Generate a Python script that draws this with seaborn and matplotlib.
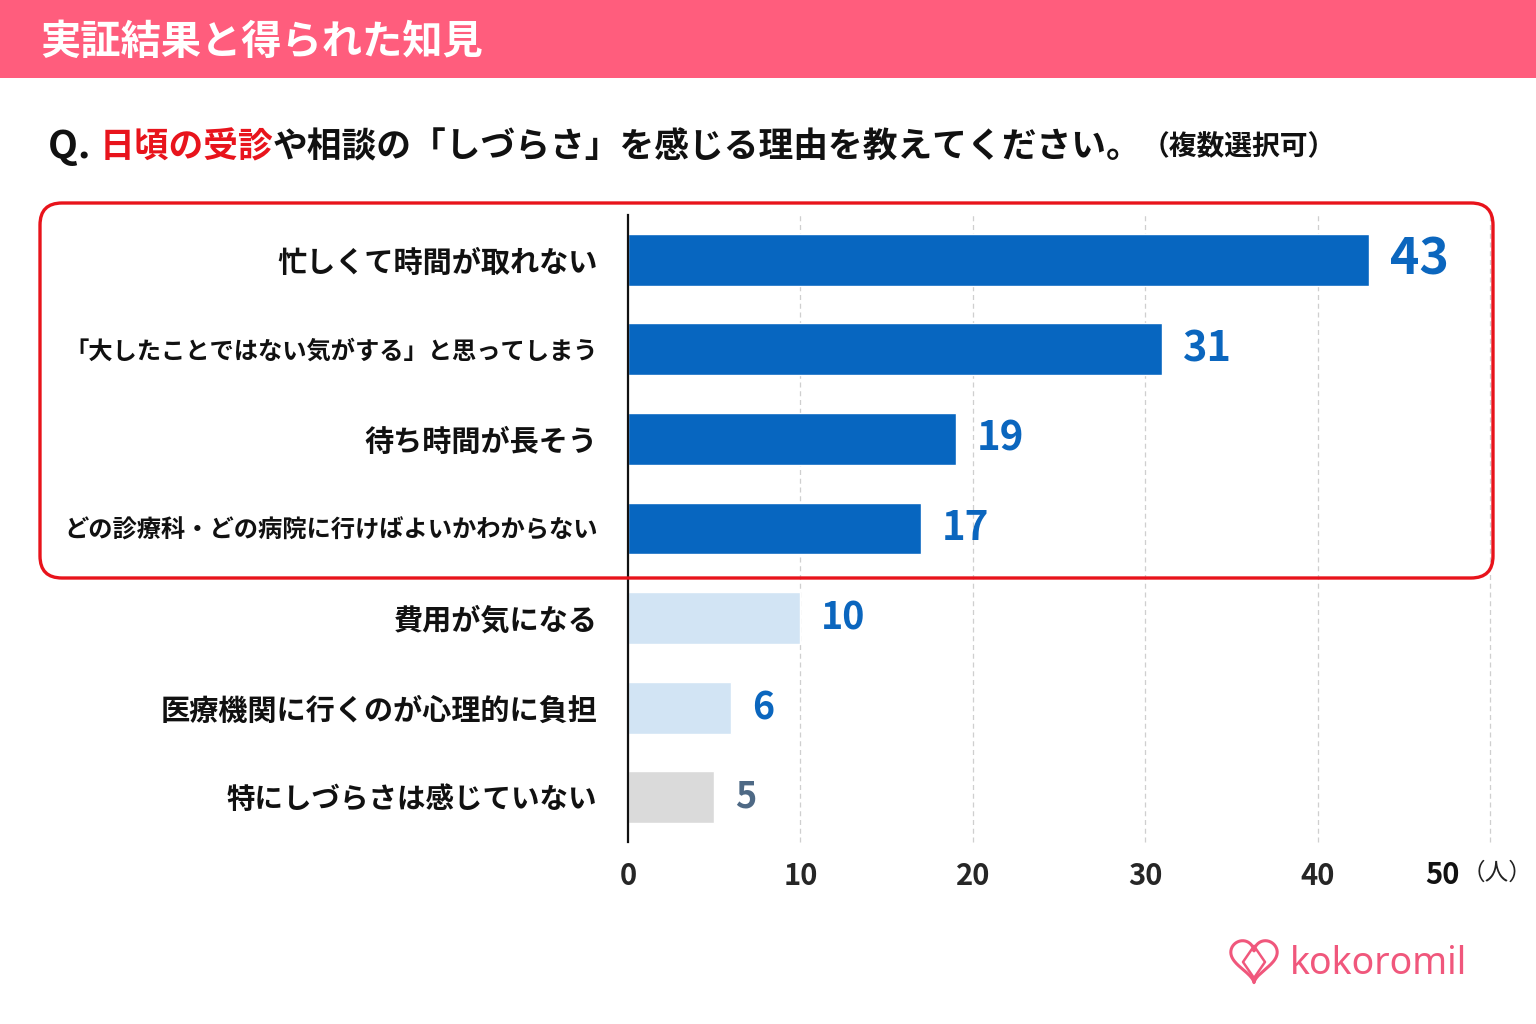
import numpy as np
import pandas as pd
import matplotlib.pyplot as plt
import seaborn as sns
from matplotlib.patches import FancyBboxPatch, Rectangle

# data
reasons = [
    '忙しくて時間が取れない',
    '「大したことではない気がする」と思ってしまう',
    '待ち時間が長そう',
    'どの診療科・どの病院に行けばよいかわからない',
    '費用が気になる',
    '医療機関に行くのが心理的に負担',
    '特にしづらさは感じていない',
]
counts = [43, 31, 19, 17, 10, 6, 5]
bar_colors = ['#0766C0', '#0766C0', '#0766C0', '#0766C0', '#D2E4F4', '#D2E4F4', '#DADADA']
label_colors = ['#0B66BE', '#0B66BE', '#0B66BE', '#0B66BE', '#0B66BE', '#0B66BE', '#4E6985']
label_sizes = [36, 30, 29, 29, 27, 27, 26]
reason_sizes = [21, 17.5, 21, 17.5, 21, 21, 20.5]
xticks = [0, 10, 20, 30, 40, 50]

df = pd.DataFrame({'reason': reasons, 'count': counts})

sns.set_theme(style='white')
plt.rcParams['font.family'] = ['Noto Sans CJK JP', 'DejaVu Sans']

W, H = 1536, 1024
fig = plt.figure(figsize=(W / 100, H / 100), dpi=100)
fig.patch.set_facecolor('#FFFFFF')

# chart axes (pixel layout: x 628..1490, y 215..842)
ax = fig.add_axes([628 / W, 1 - 842 / H, (1490 - 628) / W, (842 - 215) / H])
sns.barplot(data=df, x='count', y='reason', hue='reason', palette=bar_colors,
            legend=False, width=0.58, saturation=1, ax=ax, zorder=3)
ax.set_xlim(0, 50)
ax.set_xticks(xticks)
ax.set_xticklabels([str(t) for t in xticks[:-1]] + [''], fontsize=21, fontweight='bold')
ax.set_xlabel('')
ax.set_ylabel('')
ax.tick_params(axis='x', length=0, pad=14)
ax.tick_params(axis='y', length=0, pad=22)
for lbl, fs in zip(ax.get_yticklabels(), reason_sizes):
    lbl.set_fontsize(fs)
    lbl.set_fontweight('bold')
    lbl.set_color('#111111')
for t in xticks[1:]:
    ax.axvline(t, color='#CFCFCF', linestyle=(0, (4, 3)), linewidth=0.9, zorder=1, clip_on=False)
for s in ['top', 'right', 'bottom']:
    ax.spines[s].set_visible(False)
ax.spines['left'].set_color('#111111')
ax.spines['left'].set_linewidth(1.6)
ax.spines['left'].set_zorder(4)
ax.set_facecolor('none')

for i, cont in enumerate(ax.containers):
    ax.bar_label(cont, labels=[str(counts[i])], padding=15, fontsize=label_sizes[i],
                 fontweight='bold', color=label_colors[i])

# overlay in pixel coordinates for header, frame, logo
ov = fig.add_axes([0, 0, 1, 1], zorder=10)
ov.set_xlim(0, W)
ov.set_ylim(H, 0)
ov.axis('off')
ov.patch.set_alpha(0)

# last tick "50" with unit
ov.text(1460, 875, '50', fontsize=21, fontweight='bold', color='#111111',
        ha='right', va='center')
ov.text(1462, 873, '（人）', fontsize=17, color='#222222', ha='left', va='center')

ov.add_patch(Rectangle((0, 0), W, 78, facecolor='#FF5D7D', edgecolor='none'))
ov.text(40, 42, '実証結果と得られた知見', fontsize=29, fontweight='bold',
        color='white', ha='left', va='center')

ov.add_patch(FancyBboxPatch((60, 223), 1413, 335,
                            boxstyle='round,pad=20,rounding_size=22',
                            facecolor='none', edgecolor='#E8131B', linewidth=2.4))

# question line with coloured part
parts = [('Q. ', '#111111', 28), ('日頃の受診', '#E8141C', 25),
         ('や相談の「しづらさ」を感じる理由を教えてください。', '#111111', 25),
         ('（複数選択可）', '#111111', 20)]
fig.canvas.draw()
renderer = fig.canvas.get_renderer()
x = 48
for txt, col, fs in parts:
    t = ov.text(x, 147, txt, fontsize=fs, fontweight='bold', color=col,
                ha='left', va='center')
    bb = t.get_window_extent(renderer=renderer)
    x += bb.width

# logo
th = np.linspace(0, 2 * np.pi, 200)
hx = 16 * np.sin(th) ** 3
hy = 13 * np.cos(th) - 5 * np.cos(2 * th) - 2 * np.cos(3 * th) - np.cos(4 * th)
ov.plot(1254 + hx * 1.45, 958 - hy * 1.45, color='#F0577C', linewidth=2.2)
ov.plot([1254, 1243, 1254, 1265, 1254], [946, 962, 978, 962, 946],
        color='#F0577C', linewidth=1.8)
ov.text(1290, 964, 'kokoromil', fontsize=27, color='#F0577C',
        ha='left', va='center', family=['Noto Sans', 'DejaVu Sans'])

fig.savefig('out.png', dpi=100)
